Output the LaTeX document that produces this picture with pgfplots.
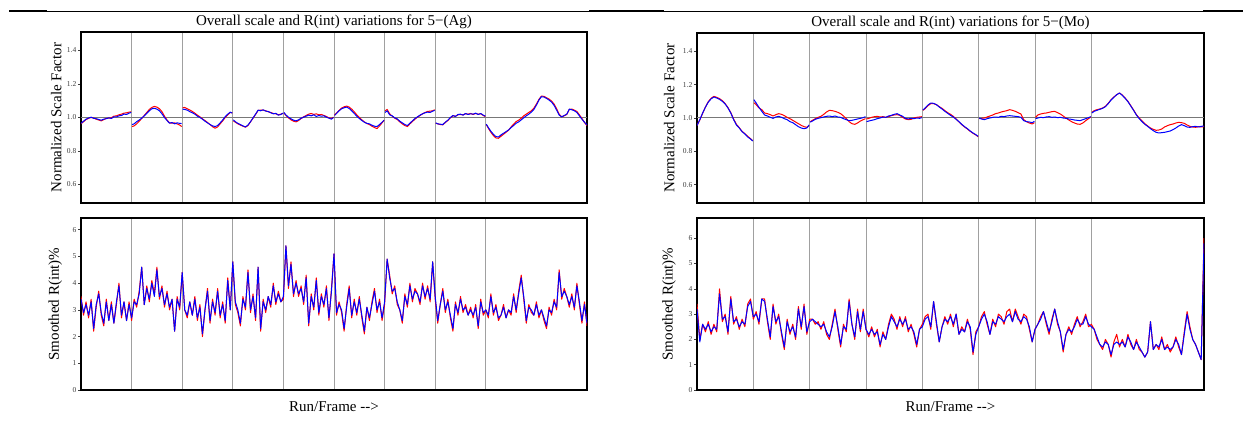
\documentclass[border=0pt]{standalone}
\usepackage{pgfplots}
\usepackage{pgfplotstable}
\pgfplotsset{compat=1.18}
\usepackage{fontspec}
\setmainfont{Liberation Serif}
\definecolor{pred}{RGB}{255,0,0}
\definecolor{pblue}{RGB}{0,0,255}
\definecolor{vgrid}{RGB}{160,160,160}
\definecolor{hline}{RGB}{120,120,120}
\definecolor{tickc}{RGB}{60,60,60}

\pgfplotstableread{
x r b
0.00 0.962 0.965
0.05 0.975 0.978
0.10 0.988 0.990
0.15 0.995 0.997
0.20 1.000 1.002
0.25 0.997 0.995
0.30 0.990 0.993
0.35 0.985 0.988
0.40 0.980 0.984
0.45 0.987 0.990
0.50 0.995 0.993
0.55 0.996 0.998
0.60 0.999 0.994
0.65 1.008 1.004
0.70 1.010 1.003
0.75 1.016 1.010
0.80 1.020 1.012
0.85 1.026 1.020
0.90 1.028 1.018
0.95 1.032 1.026
0.99 1.034 1.030
0.995 nan nan
1.01 0.946 0.958
1.05 0.950 0.962
1.10 0.962 0.975
1.15 0.978 0.985
1.20 0.994 0.996
1.25 1.012 1.010
1.30 1.030 1.025
1.35 1.048 1.040
1.40 1.060 1.052
1.45 1.066 1.055
1.50 1.062 1.050
1.55 1.052 1.040
1.60 1.035 1.022
1.65 1.008 1.000
1.70 0.985 0.982
1.75 0.968 0.966
1.80 0.966 0.970
1.85 0.968 0.962
1.90 0.962 0.968
1.95 0.955 0.965
1.99 0.946 0.964
1.995 nan nan
2.01 1.058 1.050
2.05 1.060 1.048
2.10 1.052 1.044
2.15 1.045 1.035
2.20 1.036 1.028
2.25 1.026 1.020
2.30 1.014 1.008
2.35 1.004 1.000
2.40 0.992 0.990
2.45 0.982 0.978
2.50 0.970 0.968
2.55 0.958 0.958
2.60 0.945 0.950
2.65 0.936 0.946
2.70 0.944 0.952
2.75 0.962 0.968
2.80 0.980 0.985
2.85 1.000 1.005
2.90 1.015 1.020
2.95 1.030 1.032
2.99 1.028 1.026
2.995 nan nan
3.01 0.980 0.986
3.05 0.972 0.975
3.10 0.962 0.965
3.15 0.955 0.958
3.20 0.948 0.950
3.25 0.942 0.944
3.30 0.952 0.955
3.35 0.974 0.975
3.40 0.996 0.998
3.45 1.018 1.020
3.50 1.042 1.044
3.55 1.044 1.040
3.60 1.044 1.046
3.65 1.040 1.038
3.70 1.034 1.036
3.75 1.030 1.028
3.80 1.024 1.022
3.85 1.022 1.025
3.90 1.016 1.014
3.95 1.020 1.018
3.99 1.024 1.026
3.995 nan nan
4.01 1.028 1.030
4.05 1.012 1.015
4.10 0.998 1.002
4.15 0.986 0.992
4.20 0.978 0.984
4.25 0.974 0.980
4.30 0.982 0.986
4.35 0.994 0.996
4.40 1.004 1.002
4.45 1.012 1.008
4.50 1.020 1.014
4.55 1.024 1.010
4.60 1.018 1.016
4.65 1.022 1.006
4.70 1.016 1.012
4.75 1.018 1.008
4.80 1.012 1.010
4.85 1.006 1.002
4.90 0.998 0.996
4.95 0.994 0.990
4.99 1.002 1.000
4.995 nan nan
5.01 1.014 1.012
5.05 1.026 1.024
5.10 1.042 1.040
5.15 1.056 1.052
5.20 1.064 1.058
5.25 1.068 1.062
5.30 1.062 1.054
5.35 1.050 1.040
5.40 1.034 1.024
5.45 1.016 1.008
5.50 1.000 0.994
5.55 0.986 0.982
5.60 0.974 0.972
5.65 0.964 0.965
5.70 0.958 0.962
5.75 0.948 0.954
5.80 0.940 0.948
5.85 0.934 0.946
5.90 0.950 0.958
5.95 0.968 0.972
5.99 0.984 0.984
5.995 nan nan
6.01 1.040 1.030
6.05 1.048 1.040
6.10 1.022 1.016
6.15 1.008 1.010
6.20 0.996 0.998
6.25 0.988 0.992
6.30 0.974 0.978
6.35 0.962 0.968
6.40 0.952 0.958
6.45 0.946 0.952
6.50 0.962 0.966
6.55 0.976 0.980
6.60 0.990 0.994
6.65 1.002 1.004
6.70 1.012 1.014
6.75 1.022 1.022
6.80 1.030 1.028
6.85 1.036 1.032
6.90 1.038 1.030
6.95 1.040 1.038
6.99 1.046 1.042
6.995 nan nan
7.01 0.966 0.968
7.05 0.962 0.962
7.10 0.958 0.960
7.15 0.956 0.958
7.20 0.970 0.972
7.25 0.982 0.984
7.30 0.998 1.000
7.35 1.010 1.012
7.40 1.008 1.006
7.45 1.016 1.018
7.50 1.018 1.020
7.55 1.016 1.014
7.60 1.022 1.024
7.65 1.020 1.018
7.70 1.024 1.022
7.75 1.018 1.020
7.80 1.024 1.026
7.85 1.020 1.018
7.90 1.022 1.024
7.95 1.012 1.014
7.99 1.006 1.008
7.995 nan nan
8.01 0.958 0.960
8.05 0.936 0.940
8.10 0.912 0.918
8.15 0.892 0.900
8.20 0.878 0.886
8.25 0.876 0.884
8.30 0.888 0.896
8.35 0.900 0.906
8.40 0.912 0.916
8.45 0.924 0.926
8.50 0.944 0.940
8.55 0.960 0.952
8.60 0.976 0.966
8.65 0.984 0.974
8.70 0.996 0.986
8.75 1.010 0.998
8.80 1.020 1.010
8.85 1.030 1.020
8.90 1.040 1.032
8.95 1.056 1.048
9.00 1.080 1.074
9.05 1.108 1.104
9.10 1.128 1.124
9.15 1.126 1.122
9.20 1.118 1.114
9.25 1.110 1.104
9.30 1.098 1.092
9.35 1.080 1.072
9.40 1.052 1.044
9.45 1.020 1.014
9.50 1.004 1.004
9.55 1.010 1.012
9.60 1.018 1.020
9.65 1.048 1.050
9.70 1.050 1.046
9.75 1.044 1.040
9.80 1.036 1.030
9.85 1.016 1.010
9.90 0.994 0.990
9.95 0.970 0.972
10.00 0.952 0.956
}\tabAgTop

\pgfplotstableread{
x r b
0.00 3.5 3.4
0.05 2.8 2.9
0.10 3.3 3.2
0.15 2.7 2.8
0.20 3.4 3.3
0.25 2.2 2.3
0.30 3.1 3.2
0.35 3.7 3.6
0.40 2.8 2.9
0.45 2.4 2.5
0.50 3.4 3.3
0.55 2.6 2.6
0.60 3.3 3.2
0.65 2.5 2.5
0.70 3.2 3.3
0.75 4.0 3.9
0.80 2.7 2.8
0.85 3.3 3.3
0.90 2.6 2.6
0.95 3.3 3.2
1.00 2.6 2.7
1.05 3.4 3.3
1.10 3.1 3.2
1.15 3.7 3.6
1.20 4.6 4.6
1.25 3.2 3.2
1.30 3.9 3.8
1.35 3.3 3.4
1.40 4.1 4.0
1.45 3.6 3.5
1.50 4.6 4.5
1.55 3.4 3.5
1.60 3.9 3.8
1.65 3.1 3.2
1.70 3.7 3.6
1.75 3.0 3.1
1.80 3.4 3.4
1.85 2.2 2.2
1.90 3.5 3.4
1.95 3.0 3.1
2.00 4.4 4.4
2.05 3.0 3.0
2.10 2.7 2.8
2.15 3.3 3.3
2.20 2.8 2.8
2.25 3.5 3.4
2.30 2.6 2.7
2.35 3.2 3.1
2.40 2.0 2.1
2.45 3.0 3.0
2.50 3.8 3.7
2.55 2.5 2.6
2.60 3.4 3.3
2.65 2.8 2.9
2.70 3.8 3.7
2.75 2.7 2.8
2.80 3.3 3.2
2.85 2.5 2.6
2.90 4.2 4.1
2.95 3.0 3.0
3.00 4.8 4.8
3.05 3.2 3.3
3.10 2.9 3.0
3.15 2.4 2.5
3.20 3.5 3.4
3.25 3.0 3.1
3.30 4.5 4.4
3.35 2.9 3.0
3.40 3.6 3.5
3.45 2.6 2.7
3.50 4.6 4.6
3.55 2.2 2.3
3.60 3.4 3.3
3.65 2.9 3.0
3.70 3.5 3.5
3.75 3.1 3.2
3.80 4.0 3.9
3.85 3.2 3.3
3.90 3.7 3.6
3.95 3.3 3.3
4.00 3.4 3.5
4.05 5.4 5.4
4.10 3.8 3.9
4.15 4.8 4.7
4.20 3.5 3.6
4.25 4.1 4.0
4.30 3.5 3.6
4.35 3.9 3.8
4.40 3.2 3.3
4.45 4.3 4.2
4.50 2.4 2.5
4.55 3.6 3.5
4.60 3.0 3.1
4.65 4.2 4.1
4.70 2.8 2.9
4.75 3.6 3.5
4.80 3.1 3.2
4.85 3.9 3.8
4.90 2.6 2.7
4.95 3.8 3.7
5.00 5.1 5.1
5.05 2.8 2.9
5.10 3.3 3.2
5.15 2.9 3.0
5.20 2.2 2.3
5.25 3.2 3.1
5.30 3.9 3.8
5.35 2.7 2.8
5.40 3.4 3.3
5.45 2.8 2.9
5.50 3.5 3.4
5.55 2.7 2.8
5.60 2.1 2.2
5.65 3.1 3.1
5.70 2.6 2.7
5.75 3.3 3.2
5.80 3.8 3.7
5.85 2.9 3.0
5.90 3.4 3.3
5.95 2.6 2.7
6.00 3.2 3.3
6.05 4.9 4.9
6.10 4.3 4.2
6.15 3.6 3.7
6.20 3.9 3.8
6.25 3.2 3.3
6.30 3.0 3.0
6.35 2.5 2.6
6.40 3.6 3.5
6.45 3.1 3.2
6.50 4.0 3.9
6.55 3.3 3.4
6.60 3.8 3.7
6.65 3.6 3.6
6.70 3.2 3.3
6.75 4.0 3.9
6.80 3.4 3.5
6.85 3.9 3.8
6.90 3.3 3.4
6.95 4.8 4.8
7.00 3.4 3.5
7.05 2.5 2.6
7.10 3.2 3.2
7.15 3.8 3.7
7.20 2.9 3.0
7.25 3.4 3.3
7.30 2.7 2.8
7.35 2.2 2.3
7.40 3.3 3.2
7.45 2.8 2.9
7.50 3.5 3.4
7.55 2.9 3.0
7.60 3.2 3.1
7.65 2.8 2.8
7.70 3.1 3.0
7.75 2.7 2.8
7.80 3.2 3.1
7.85 2.3 2.4
7.90 3.4 3.3
7.95 2.8 2.9
8.00 3.0 3.0
8.05 2.7 2.8
8.10 3.6 3.5
8.15 2.8 2.9
8.20 3.2 3.1
8.25 2.6 2.7
8.30 2.8 2.8
8.35 3.2 3.1
8.40 2.7 2.7
8.45 3.0 3.0
8.50 2.8 2.9
8.55 3.6 3.5
8.60 2.9 3.0
8.65 3.7 3.6
8.70 4.3 4.2
8.75 3.4 3.5
8.80 2.5 2.6
8.85 3.2 3.1
8.90 2.9 3.0
8.95 2.8 2.8
9.00 3.3 3.2
9.05 2.7 2.8
9.10 3.0 3.0
9.15 2.6 2.7
9.20 2.3 2.4
9.25 3.1 3.0
9.30 2.8 2.9
9.35 3.4 3.3
9.40 3.0 3.1
9.45 4.5 4.4
9.50 3.4 3.5
9.55 3.8 3.7
9.60 3.5 3.5
9.65 3.1 3.2
9.70 3.6 3.5
9.75 3.0 3.1
9.80 4.0 3.9
9.85 3.2 3.3
9.90 2.5 2.6
9.95 3.3 3.2
10.00 2.4 2.5
}\tabAgBot

\pgfplotstableread{
x r b
0.00 0.955 0.955
0.05 0.988 0.990
0.10 1.028 1.030
0.15 1.066 1.065
0.20 1.098 1.095
0.25 1.118 1.115
0.30 1.130 1.126
0.35 1.124 1.120
0.40 1.116 1.112
0.45 1.104 1.100
0.50 1.086 1.084
0.55 1.062 1.060
0.60 1.032 1.030
0.65 0.994 0.990
0.70 0.962 0.958
0.75 0.942 0.940
0.80 0.920 0.918
0.85 0.906 0.904
0.90 0.890 0.886
0.95 0.876 0.874
0.99 0.864 0.862
0.995 nan nan
1.01 1.092 1.110
1.05 1.080 1.090
1.10 1.060 1.064
1.15 1.050 1.040
1.20 1.030 1.018
1.25 1.026 1.012
1.30 1.020 1.004
1.35 1.012 0.998
1.40 1.020 1.006
1.45 1.026 1.010
1.50 1.022 1.004
1.55 1.014 0.996
1.60 1.004 0.990
1.65 0.996 0.978
1.70 0.986 0.972
1.75 0.976 0.960
1.80 0.966 0.948
1.85 0.956 0.940
1.90 0.948 0.936
1.95 0.944 0.940
1.99 0.954 0.958
1.995 nan nan
2.01 0.978 0.975
2.05 0.986 0.982
2.10 0.996 0.992
2.15 1.004 0.998
2.20 1.010 1.002
2.25 1.022 1.006
2.30 1.036 1.010
2.35 1.046 1.012
2.40 1.044 1.008
2.45 1.040 1.012
2.50 1.034 1.006
2.55 1.026 1.004
2.60 1.012 0.996
2.65 0.996 0.990
2.70 0.978 0.984
2.75 0.966 0.986
2.80 0.962 0.990
2.85 0.970 0.994
2.90 0.982 0.998
2.95 0.990 1.002
2.99 0.996 1.008
2.995 nan nan
3.01 0.994 0.978
3.05 0.998 0.982
3.10 1.004 0.986
3.15 1.008 0.990
3.20 1.010 0.996
3.25 1.006 1.000
3.30 1.008 1.006
3.35 1.004 1.004
3.40 1.008 1.012
3.45 1.014 1.016
3.50 1.018 1.022
3.55 1.020 1.026
3.60 1.016 1.018
3.65 1.004 1.010
3.70 0.994 0.998
3.75 0.990 0.994
3.80 0.992 0.998
3.85 1.000 0.996
3.90 1.004 1.000
3.95 1.006 0.998
3.99 1.008 1.002
3.995 nan nan
4.01 1.046 1.048
4.05 1.056 1.060
4.10 1.074 1.078
4.15 1.086 1.090
4.20 1.086 1.088
4.25 1.080 1.080
4.30 1.068 1.066
4.35 1.058 1.054
4.40 1.044 1.040
4.45 1.032 1.028
4.50 1.022 1.016
4.55 1.010 1.006
4.60 0.994 0.992
4.65 0.976 0.978
4.70 0.960 0.962
4.75 0.946 0.948
4.80 0.934 0.936
4.85 0.920 0.922
4.90 0.908 0.910
4.95 0.898 0.900
4.99 0.888 0.890
4.995 nan nan
5.01 0.996 1.000
5.05 0.998 0.994
5.10 1.000 0.990
5.15 1.006 0.996
5.20 1.012 1.000
5.25 1.018 1.004
5.30 1.026 1.006
5.35 1.030 1.004
5.40 1.036 1.010
5.45 1.040 1.008
5.50 1.044 1.012
5.55 1.050 1.014
5.60 1.046 1.012
5.65 1.040 1.010
5.70 1.032 1.008
5.75 1.024 1.004
5.80 0.990 0.984
5.85 0.978 0.978
5.90 0.970 0.976
5.95 0.964 0.972
5.99 0.972 0.980
5.995 nan nan
6.01 1.004 0.996
6.05 1.018 1.000
6.10 1.024 1.004
6.15 1.028 1.002
6.20 1.030 1.006
6.25 1.034 1.008
6.30 1.038 1.004
6.35 1.040 1.006
6.40 1.032 1.002
6.45 1.024 1.004
6.50 1.012 1.000
6.55 1.000 0.998
6.60 0.988 0.994
6.65 0.978 0.992
6.70 0.970 0.988
6.75 0.964 0.986
6.80 0.962 0.984
6.85 0.970 0.990
6.90 0.984 0.996
6.95 0.996 1.002
6.99 1.006 1.008
6.995 nan nan
7.01 1.034 1.030
7.05 1.044 1.040
7.10 1.050 1.046
7.15 1.054 1.052
7.20 1.060 1.058
7.25 1.070 1.068
7.30 1.088 1.086
7.35 1.110 1.108
7.40 1.126 1.124
7.45 1.140 1.140
7.50 1.150 1.150
7.55 1.138 1.136
7.60 1.120 1.118
7.65 1.100 1.098
7.70 1.074 1.072
7.75 1.048 1.046
7.80 1.020 1.018
7.85 1.000 0.996
7.90 0.982 0.978
7.95 0.966 0.962
8.00 0.952 0.950
8.05 0.940 0.936
8.10 0.932 0.924
8.15 0.926 0.914
8.20 0.928 0.910
8.25 0.934 0.912
8.30 0.946 0.914
8.35 0.954 0.918
8.40 0.960 0.922
8.45 0.964 0.930
8.50 0.970 0.940
8.55 0.974 0.952
8.60 0.972 0.960
8.65 0.968 0.954
8.70 0.958 0.946
8.75 0.950 0.944
8.80 0.946 0.948
8.85 0.944 0.950
8.90 0.948 0.946
8.95 0.946 0.950
9.00 0.948 0.952
}\tabMoTop

\pgfplotstableread{
x r b
0.00 3.4 3.2
0.05 2.0 1.9
0.10 2.6 2.6
0.15 2.3 2.4
0.20 2.7 2.6
0.25 2.2 2.3
0.30 2.6 2.5
0.35 2.3 2.4
0.40 4.0 3.8
0.45 2.7 2.8
0.50 3.0 2.9
0.55 2.2 2.3
0.60 3.7 3.6
0.65 2.6 2.7
0.70 2.9 2.8
0.75 2.4 2.5
0.80 2.8 2.7
0.85 2.5 2.6
0.90 3.4 3.3
0.95 3.6 3.5
1.00 2.8 2.9
1.05 3.1 3.0
1.10 2.6 2.7
1.15 3.6 3.6
1.20 3.6 3.5
1.25 2.7 2.8
1.30 2.0 2.1
1.35 3.4 3.3
1.40 2.6 2.7
1.45 3.0 2.9
1.50 2.2 2.3
1.55 1.6 1.7
1.60 2.8 2.7
1.65 2.2 2.3
1.70 2.6 2.5
1.75 2.0 2.1
1.80 3.3 3.2
1.85 2.4 2.5
1.90 3.4 3.3
1.95 2.2 2.3
2.00 2.8 2.7
2.05 2.8 2.8
2.10 2.6 2.7
2.15 2.7 2.6
2.20 2.4 2.5
2.25 2.7 2.6
2.30 2.2 2.3
2.35 2.0 2.1
2.40 2.6 2.5
2.45 3.2 3.1
2.50 2.4 2.5
2.55 1.7 1.8
2.60 2.6 2.5
2.65 2.3 2.4
2.70 3.6 3.5
2.75 2.6 2.6
2.80 2.0 2.1
2.85 3.2 3.1
2.90 2.3 2.4
2.95 3.2 3.1
3.00 2.4 2.4
3.05 2.1 2.2
3.10 2.5 2.4
3.15 2.1 2.2
3.20 2.4 2.3
3.25 1.7 1.8
3.30 2.3 2.2
3.35 2.0 2.0
3.40 2.6 2.5
3.45 3.0 2.9
3.50 2.8 2.7
3.55 2.4 2.5
3.60 2.9 2.8
3.65 2.5 2.6
3.70 2.9 2.8
3.75 2.3 2.4
3.80 2.6 2.5
3.85 2.2 2.3
3.90 1.7 1.8
3.95 2.4 2.4
4.00 2.6 2.5
4.05 2.9 2.8
4.10 3.0 2.9
4.15 2.4 2.5
4.20 3.5 3.5
4.25 2.6 2.7
4.30 1.9 1.9
4.35 2.5 2.5
4.40 2.9 2.8
4.45 2.6 2.7
4.50 3.0 2.9
4.55 2.5 2.6
4.60 3.0 3.0
4.65 2.2 2.2
4.70 2.5 2.4
4.75 2.3 2.3
4.80 2.8 2.7
4.85 2.4 2.5
4.90 1.4 1.5
4.95 2.3 2.2
5.00 2.5 2.5
5.05 2.9 2.8
5.10 3.1 3.0
5.15 2.6 2.7
5.20 2.2 2.2
5.25 2.8 2.7
5.30 2.5 2.6
5.35 3.0 2.9
5.40 2.9 2.8
5.45 2.6 2.7
5.50 3.1 2.9
5.55 3.2 3.0
5.60 2.7 2.7
5.65 3.2 3.1
5.70 2.9 2.8
5.75 2.6 2.7
5.80 3.0 2.9
5.85 2.9 2.8
5.90 2.4 2.5
5.95 1.9 1.9
6.00 2.4 2.4
6.05 2.6 2.6
6.10 2.9 2.8
6.15 3.1 3.1
6.20 2.6 2.7
6.25 2.2 2.3
6.30 2.8 2.7
6.35 3.2 3.2
6.40 2.6 2.7
6.45 2.3 2.3
6.50 1.5 1.6
6.55 2.2 2.2
6.60 2.5 2.4
6.65 2.2 2.3
6.70 2.6 2.5
6.75 2.9 2.8
6.80 2.5 2.6
6.85 2.7 2.6
6.90 3.0 2.9
6.95 2.5 2.6
7.00 2.6 2.5
7.05 2.4 2.4
7.10 2.0 2.1
7.15 1.8 1.8
7.20 1.6 1.7
7.25 2.0 1.9
7.30 1.8 1.8
7.35 1.3 1.4
7.40 1.9 1.8
7.45 2.2 1.9
7.50 1.7 1.8
7.55 2.0 1.9
7.60 1.7 1.7
7.65 2.2 2.1
7.70 1.8 1.9
7.75 1.6 1.6
7.80 2.0 1.9
7.85 1.6 1.7
7.90 1.5 1.5
7.95 1.3 1.3
8.00 1.5 1.5
8.05 2.7 2.7
8.10 1.6 1.6
8.15 1.8 1.8
8.20 1.6 1.7
8.25 2.1 2.0
8.30 1.6 1.6
8.35 1.8 1.7
8.40 1.5 1.6
8.45 1.7 1.7
8.50 2.1 2.0
8.55 1.7 1.8
8.60 1.4 1.4
8.65 2.3 2.2
8.70 3.1 3.0
8.75 2.5 2.4
8.80 2.0 2.0
8.85 1.8 1.8
8.90 1.5 1.5
8.95 1.2 1.2
9.00 6.0 5.8
}\tabMoBot

\pgfplotsset{
  runpanel/.style={
    scale only axis,
    xmin=0,
    axis line style={line width=2pt, black},
    tick align=outside,
    ytick pos=left,
    xtick style={draw=none},
    xticklabels={},
    xmajorgrids,
    major grid style={vgrid, line width=1pt},
    ytick style={tickc, line width=0.6pt},
    major tick length=3pt,
    yticklabel style={font=\fontsize{7.5}{8}\selectfont, text=tickc, inner sep=1.5pt},
    /pgf/number format/assume math mode=true,
    unbounded coords=jump,
    ylabel style={font=\fontsize{15}{17}\selectfont, anchor=center},
    xlabel style={font=\fontsize{15}{17}\selectfont, at={(axis description cs:0.5,0)}, anchor=center, yshift=-17pt},
    title style={font=\fontsize{15}{17}\selectfont, at={(axis description cs:0.5,1)}, anchor=base, yshift=0pt},
  },
  toppanel/.style={
    ymin=0.49, ymax=1.51,
    ytick={0.6,0.8,1.0,1.2,1.4},
    yticklabel style={/pgf/number format/.cd, fixed, fixed zerofill, precision=1},
    ylabel={Normalized Scale Factor},
  },
  botpanel/.style={
    ymin=0, ytick={0,1,2,3,4,5,6},
    ylabel={Smoothed R(int)\%},
    xlabel={Run/Frame {-}{-}>},
  },
  redline/.style={pred, line width=1pt, line join=round},
  blueline/.style={pblue, line width=1pt, line join=round},
  oneline/.style={hline, line width=1pt},
}

\begin{document}
\begin{tikzpicture}
\useasboundingbox (0,0) rectangle (1243pt,-438pt);
% top rule
\draw[line width=0.6pt] (9pt,-11pt) -- (1243pt,-11pt);
\draw[line width=1.6pt] (9pt,-11pt) -- (47pt,-11pt);
\draw[line width=1.6pt] (589pt,-11pt) -- (664pt,-11pt);
\draw[line width=1.6pt] (1203pt,-11pt) -- (1243pt,-11pt);

% ---- Left: Ag ----
\begin{axis}[runpanel, toppanel,
  at={(81pt,-203pt)}, anchor=south west,
  width=506pt, height=171pt,
  xmax=10, xtick={1,2,3,4,5,6,7,8},
  ylabel style={at={(axis description cs:-0.049,0.5)}},
  title={Overall scale and R(int) variations for 5−(Ag)}]
\addplot[oneline] coordinates {(0,1) (10,1)};
\addplot[redline] table[x=x,y=r]{\tabAgTop};
\addplot[blueline] table[x=x,y=b]{\tabAgTop};
\end{axis}

\begin{axis}[runpanel, botpanel,
  at={(81pt,-390pt)}, anchor=south west,
  width=506pt, height=172pt,
  xmax=10, ymax=6.44, xtick={1,2,3,4,5,6,7,8},
  ylabel style={at={(axis description cs:-0.051,0.5)}}]
\addplot[redline] table[x=x,y=r]{\tabAgBot};
\addplot[blueline] table[x=x,y=b]{\tabAgBot};
\end{axis}

% ---- Right: Mo ----
\begin{axis}[runpanel, toppanel,
  at={(697pt,-203pt)}, anchor=south west,
  width=507pt, height=170pt,
  xmax=9, xtick={1,2,3,4,5,6,7},
  ylabel style={at={(axis description cs:-0.055,0.5)}},
  title={Overall scale and R(int) variations for 5−(Mo)}]
\addplot[oneline] coordinates {(0,1) (9,1)};
\addplot[redline] table[x=x,y=r]{\tabMoTop};
\addplot[blueline] table[x=x,y=b]{\tabMoTop};
\end{axis}

\begin{axis}[runpanel, botpanel,
  at={(697pt,-390pt)}, anchor=south west,
  width=507pt, height=172pt,
  xmax=9, ymax=6.8, xtick={1,2,3,4,5,6,7},
  ylabel style={at={(axis description cs:-0.055,0.5)}}]
\addplot[redline] table[x=x,y=r]{\tabMoBot};
\addplot[blueline] table[x=x,y=b]{\tabMoBot};
\end{axis}
\end{tikzpicture}
\end{document}
